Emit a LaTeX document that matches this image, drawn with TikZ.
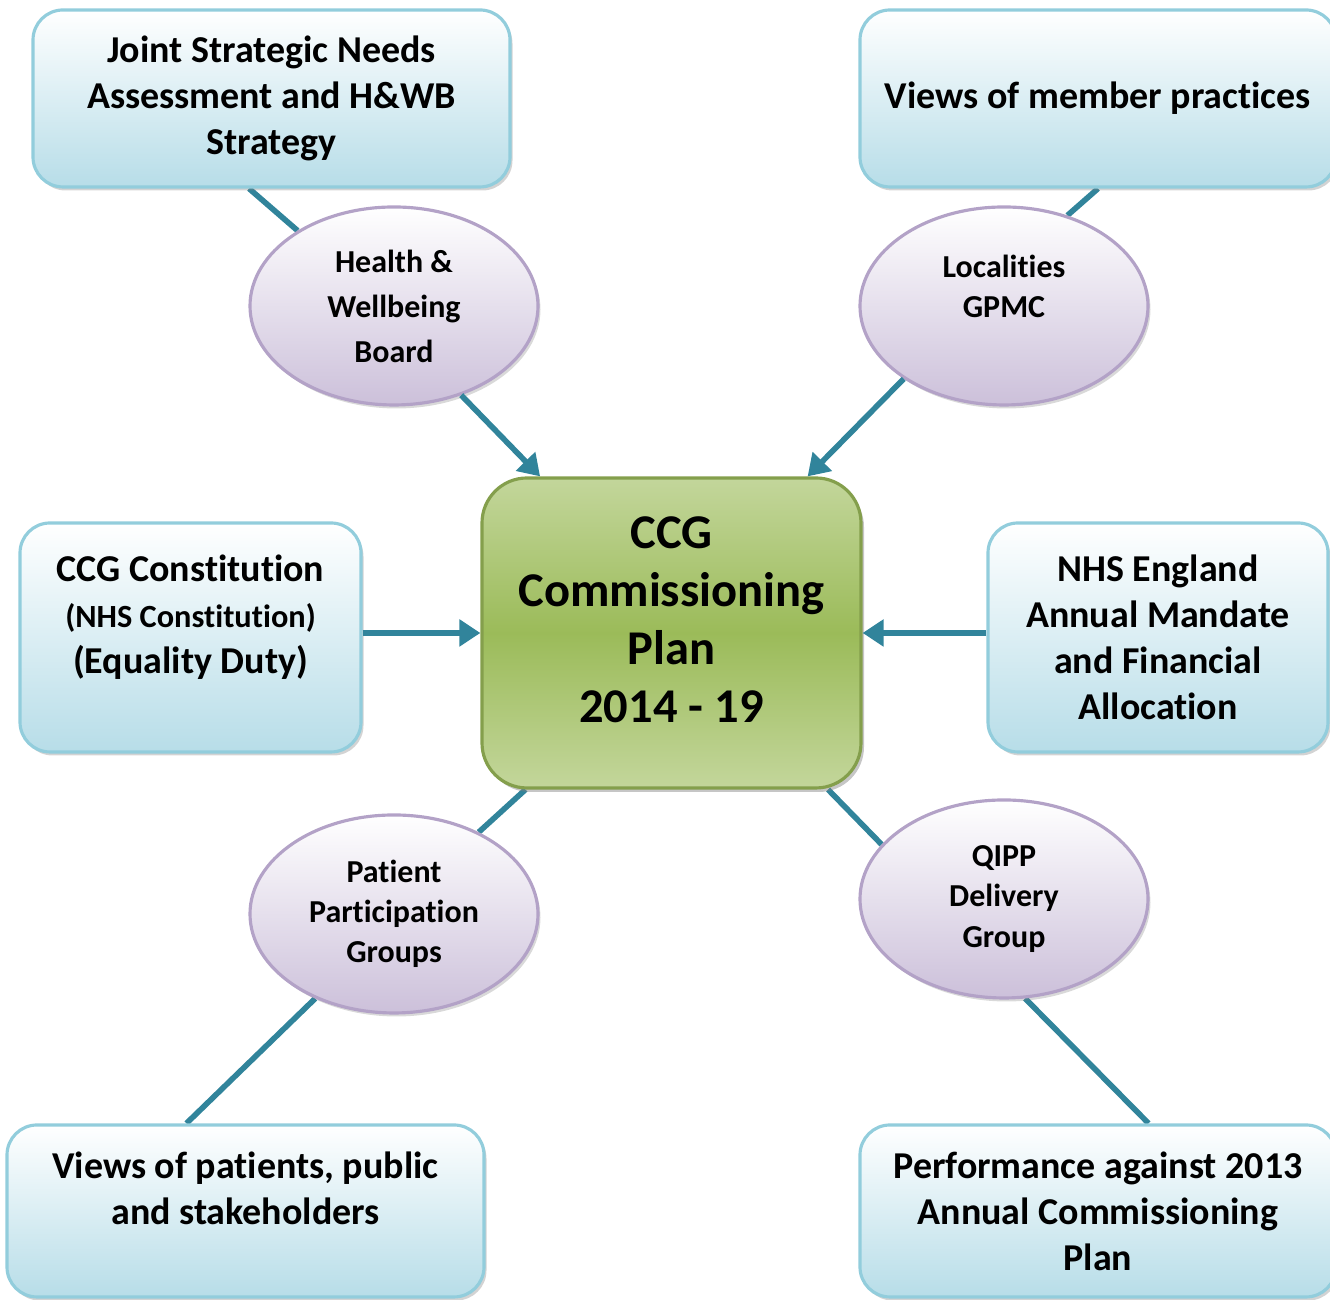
\documentclass[tikz,border=0pt]{standalone}
\usepackage{fontspec}
\setmainfont{Carlito}[Ligatures=NoCommon]
\usetikzlibrary{positioning,shapes.geometric,shadows,arrows.meta,backgrounds}

\definecolor{linkteal}{HTML}{31849B}
\definecolor{boxblue}{HTML}{B7DDE8}
\definecolor{boxedge}{HTML}{92CDDC}
\definecolor{ovallilac}{HTML}{CCC0DA}
\definecolor{ovaledge}{HTML}{B3A2C7}
\definecolor{plangreen}{HTML}{9BBB59}
\definecolor{planlight}{HTML}{C3D69B}

\begin{document}
\begin{tikzpicture}[on grid,
    infobox/.style={rectangle,rounded corners=0.3cm,draw=boxedge,line width=0.9pt,top color=white,bottom color=boxblue,
        drop shadow={shadow xshift=0.025cm,shadow yshift=-0.035cm,opacity=0.35},
        minimum width=4.77cm,minimum height=1.77cm,inner sep=0pt,align=center,font=\bfseries\fontsize{10.8}{13.1}\selectfont},
    oval/.style={ellipse,draw=ovaledge,line width=0.9pt,top color=white,bottom color=ovallilac,
        drop shadow={shadow xshift=0.025cm,shadow yshift=-0.035cm,opacity=0.3},
        minimum width=2.88cm,minimum height=1.98cm,inner sep=0pt,align=center,font=\bfseries\fontsize{9.1}{11.4}\selectfont},
    planbox/.style={rectangle,rounded corners=0.45cm,draw=plangreen!85!black,line width=0.9pt,
        top color=planlight,bottom color=planlight,middle color=plangreen,
        drop shadow={shadow xshift=0.03cm,shadow yshift=-0.04cm,opacity=0.45},
        minimum width=3.79cm,minimum height=3.10cm,inner sep=0pt,align=center,font=\bfseries\fontsize{13.8}{16.5}\selectfont},
    link/.style={draw=linkteal,line width=1.6pt},
    feed/.style={link,-{Triangle[length=0.21cm,width=0.26cm]}}]

    \useasboundingbox (0,0) rectangle (13.3,13);

    \node[planbox] (plan) at (6.715,6.67) {CCG\\Commissioning\\Plan\\2014 - 19\\[-9pt]\mbox{}};

    % top row
    \node[infobox] (jsna) [above left=5.345cm and 4.0cm of plan] {Joint Strategic Needs\\Assessment and H\&WB\\Strategy};
    \node[infobox,minimum width=4.76cm] (views) [above right=5.345cm and 4.265cm of plan] {Views of member practices};
    \node[oval,font=\bfseries\fontsize{9.1}{12.8}\selectfont] (hwb) [above left=3.27cm and 2.775cm of plan] {Health \&\\Wellbeing\\Board};
    \node[oval] (loc) [above right=3.27cm and 3.325cm of plan] {Localities\\GPMC\\\mbox{}};

    % middle row
    \node[infobox,minimum width=3.41cm,minimum height=2.29cm] (ccgc) [below left=0.045cm and 4.81cm of plan]
        {CCG Constitution\\{\fontsize{9.2}{12}\selectfont (NHS Constitution)}\\(Equality Duty)\\\mbox{}};
    \node[infobox,minimum width=3.40cm,minimum height=2.29cm] (nhse) [below right=0.045cm and 4.865cm of plan]
        {NHS England\\Annual Mandate\\and Financial\\Allocation};

    % bottom row
    \node[oval] (ppg) [below left=2.81cm and 2.775cm of plan] {Patient\\Participation\\Groups};
    \node[oval] (qipp) [below right=2.66cm and 3.325cm of plan] {QIPP\\Delivery\\Group};
    \node[infobox,minimum height=1.72cm] (vpp) [below left=5.78cm and 4.26cm of plan] {Views of patients, public\\and stakeholders\\\mbox{}};
    \node[infobox,minimum width=4.76cm,minimum height=1.72cm] (perf) [below right=5.78cm and 4.265cm of plan]
        {Performance against 2013\\Annual Commissioning\\Plan};

    \begin{scope}[on background layer]
        \draw[link] (jsna.-104) -- (hwb.142);
        \draw[link] (views.south) -- (loc.55);
        \draw[link] (plan.227) -- (ppg.44);
        \draw[link] (ppg.227) -- (vpp.124);
        \draw[link] (plan.-45) -- (qipp.156);
        \draw[link] (qipp.-78) -- (perf.60);
    \end{scope}

    \draw[feed] (hwb.-53) -- (plan.130);
    \draw[feed] (loc.216) -- (plan.49);
    \draw[feed] (ccgc.east |- plan.west) -- (plan.west);
    \draw[feed] (nhse.west |- plan.east) -- (plan.east);
\end{tikzpicture}
\end{document}
